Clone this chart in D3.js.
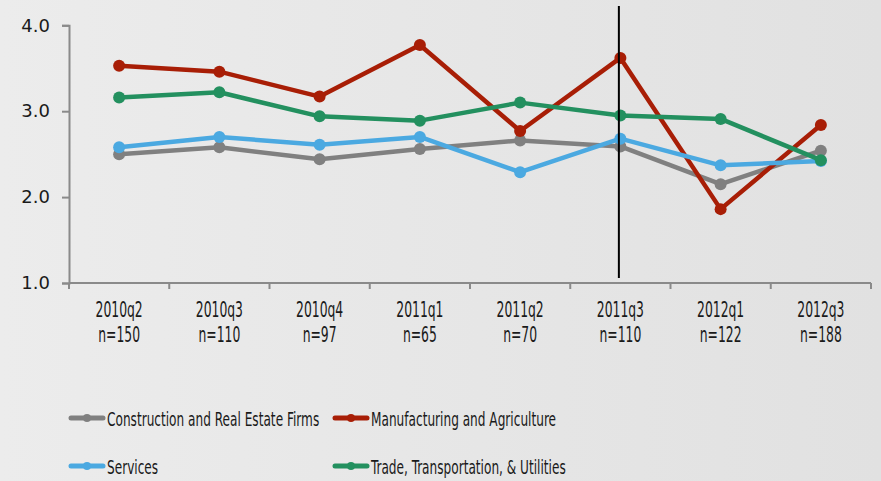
<!DOCTYPE html>
<html>
<head>
<meta charset="utf-8">
<script src="https://cdn.jsdelivr.net/npm/d3@7"></script>
<style>
  body { margin: 0; overflow: hidden; }
  svg { display: block; }
</style>
</head>
<body>
<div id="vis-container"></div>
<script>
const quarters = ["2010q2", "2010q3", "2010q4", "2011q1", "2011q2", "2011q3", "2012q1", "2012q3"];
const sampleSizes = ["n=150", "n=110", "n=97", "n=65", "n=70", "n=110", "n=122", "n=188"];
const yTicks = [1.0, 2.0, 3.0, 4.0];

const construction = [2.50, 2.58, 2.44, 2.56, 2.66, 2.59, 2.15, 2.54];
const manufacturing = [3.53, 3.46, 3.17, 3.77, 2.77, 3.62, 1.86, 2.84];
const services = [2.58, 2.70, 2.61, 2.70, 2.29, 2.68, 2.37, 2.42];
const trade = [3.16, 3.22, 2.94, 2.89, 3.10, 2.95, 2.91, 2.43];

const seriesNames = ["Construction and Real Estate Firms", "Manufacturing and Agriculture", "Services", "Trade, Transportation, & Utilities"];
const markerQuarter = "2011q3";

document.addEventListener("DOMContentLoaded", () => {
  const series = [
    { name: seriesNames[0], values: construction, color: "#808080" },
    { name: seriesNames[1], values: manufacturing, color: "#a81e06" },
    { name: seriesNames[2], values: services, color: "#4ba9e1" },
    { name: seriesNames[3], values: trade, color: "#23905f" }
  ];
  drawChart(series);
});

function drawChart(series) {
  const W = 881, H = 481;
  const condensed = "'DejaVu Sans Condensed', 'DejaVu Sans', sans-serif";
  const svg = d3.select("#vis-container")
    .append("svg")
    .attr("width", W)
    .attr("height", H);

  // background gradient
  const grad = svg.append("defs").append("linearGradient")
    .attr("id", "bg")
    .attr("x1", "0").attr("y1", "0").attr("x2", "1").attr("y2", "0");
  grad.append("stop").attr("offset", "0").attr("stop-color", "#ececec");
  grad.append("stop").attr("offset", "1").attr("stop-color", "#e1e1e1");
  svg.append("rect").attr("width", W).attr("height", H).attr("fill", "url(#bg)");

  const left = 69, right = 871, top = 25.3, bottom = 283;

  const x = d3.scaleBand().domain(quarters).range([left, right]);
  const y = d3.scaleLinear().domain([1, 4]).range([bottom, top]);
  const cx = q => x(q) + x.bandwidth() / 2;

  // y axis
  const yAxis = svg.append("g")
    .attr("transform", `translate(${left},0)`)
    .call(d3.axisLeft(y).tickValues(yTicks).tickFormat(d3.format(".1f")).tickSize(7).tickPadding(12));
  yAxis.select(".domain").attr("stroke", "#8a8a8a").attr("stroke-width", 2);
  yAxis.selectAll(".tick line").attr("stroke", "#8a8a8a").attr("stroke-width", 2);
  yAxis.selectAll(".tick text")
    .attr("fill", "#1a1a1a")
    .style("font-family", "'DejaVu Sans', sans-serif")
    .style("font-size", "18px");

  // x axis with ticks at band edges
  const xAxis = svg.append("g").attr("transform", `translate(0,${bottom})`);
  xAxis.append("line")
    .attr("x1", left).attr("x2", right)
    .attr("stroke", "#8a8a8a").attr("stroke-width", 2);
  const edges = quarters.map(q => x(q)).concat([right]);
  xAxis.selectAll("line.tk")
    .data(edges)
    .join("line")
    .attr("class", "tk")
    .attr("x1", d => d).attr("x2", d => d)
    .attr("y1", 0).attr("y2", 6)
    .attr("stroke", "#8a8a8a").attr("stroke-width", 2);
  const lbl = xAxis.selectAll("g.lbl")
    .data(quarters)
    .join("g")
    .attr("class", "lbl")
    .attr("transform", d => `translate(${cx(d)},0) scale(0.64,1)`);
  lbl.append("text")
    .attr("y", 34)
    .attr("text-anchor", "middle")
    .attr("fill", "#1a1a1a")
    .style("font-family", condensed)
    .style("font-size", "21.5px")
    .text(d => d);
  lbl.append("text")
    .attr("y", 59)
    .attr("text-anchor", "middle")
    .attr("fill", "#1a1a1a")
    .style("font-family", condensed)
    .style("font-size", "21.5px")
    .text((d, i) => sampleSizes[i]);

  // lines
  const line = d3.line()
    .x((d, i) => cx(quarters[i]))
    .y(d => y(d));

  series.forEach(s => {
    svg.append("path")
      .datum(s.values)
      .attr("fill", "none")
      .attr("stroke", s.color)
      .attr("stroke-width", 4.5)
      .attr("stroke-linejoin", "round")
      .attr("d", line);
    svg.append("g")
      .selectAll("circle")
      .data(s.values)
      .join("circle")
      .attr("cx", (d, i) => cx(quarters[i]))
      .attr("cy", d => y(d))
      .attr("r", 6)
      .attr("fill", s.color);
  });

  // vertical reference line
  svg.append("line")
    .attr("x1", cx(markerQuarter) - 1.5).attr("x2", cx(markerQuarter) - 1.5)
    .attr("y1", 6).attr("y2", 278)
    .attr("stroke", "#000")
    .attr("stroke-width", 2);

  // legend
  const legendPos = [[69, 418], [333, 418], [69, 466], [333, 466]];
  series.forEach((s, i) => {
    const [lx, ly] = legendPos[i];
    const g = svg.append("g").attr("transform", `translate(${lx},${ly})`);
    g.append("line")
      .attr("x1", 2).attr("x2", 34)
      .attr("stroke", s.color).attr("stroke-width", 5)
      .attr("stroke-linecap", "round");
    g.append("circle").attr("cx", 18).attr("r", 4).attr("fill", s.color);
    g.append("text")
      .attr("transform", "translate(38,7.5) scale(0.71,1)")
      .attr("fill", "#1a1a1a")
      .style("font-family", condensed)
      .style("font-size", "19px")
      .text(s.name);
  });
}
</script>
</body>
</html>
